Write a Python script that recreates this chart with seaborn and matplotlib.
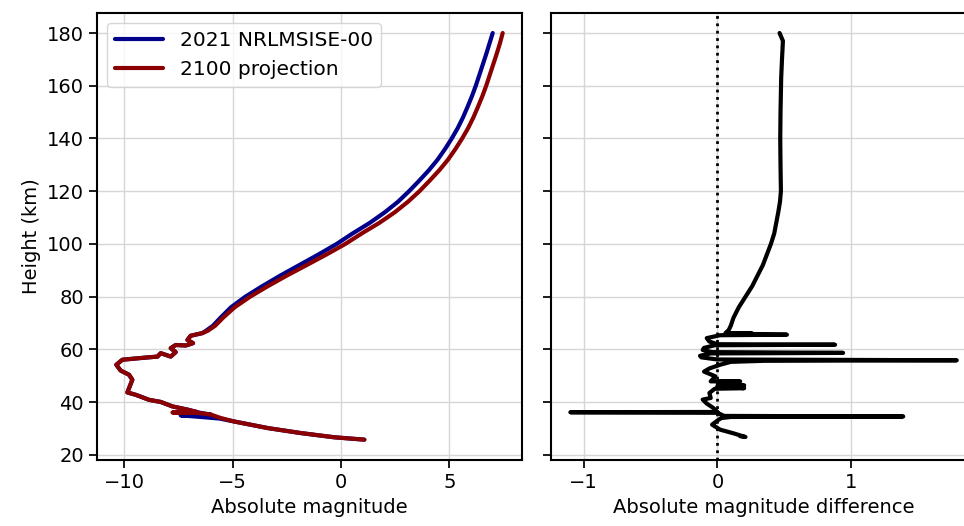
import numpy as np
import pandas as pd
import matplotlib
matplotlib.use('Agg')
import matplotlib.pyplot as plt
import seaborn as sns

# upper smooth part of the light curves (height in km, absolute magnitude)
upper_h = [180, 176, 172, 168, 164, 160, 156, 152, 148, 144, 140, 136, 132, 128, 124,
           120, 116, 112, 108, 104, 100, 96, 92, 88, 84, 80, 76, 72, 69, 67]
upper_2021 = [7.00, 6.85, 6.70, 6.54, 6.38, 6.22, 6.04, 5.84, 5.63, 5.39, 5.11, 4.80,
              4.46, 4.06, 3.61, 3.14, 2.63, 2.02, 1.33, 0.54, -0.20, -1.04, -1.92,
              -2.80, -3.63, -4.41, -5.07, -5.56, -5.90, -6.24]
upper_2100 = [7.46, 7.33, 7.18, 7.02, 6.86, 6.70, 6.52, 6.32, 6.11, 5.87, 5.59, 5.28,
              4.94, 4.54, 4.09, 3.62, 3.09, 2.48, 1.77, 0.96, 0.20, -0.67, -1.58,
              -2.50, -3.37, -4.19, -4.90, -5.44, -5.80, -6.16]

# wiggly part below 67 km, shared by both models down to 37 km
mid_h = [66.2, 65.2, 63.6, 62.4, 61.5, 61.7, 60.5, 59.0, 57.3, 58.6, 57.3, 56.7, 56.1,
         54.2, 52.0, 50.4, 48.5, 46.0, 43.7, 42.8, 40.9, 40.1, 38.4, 37.2]
mid_mag = [-6.39, -6.93, -7.08, -6.82, -7.16, -7.62, -7.85, -7.62, -7.85, -8.31, -8.46,
           -9.31, -10.08, -10.36, -10.16, -9.77, -9.62, -9.74, -9.85, -9.46, -8.85,
           -8.31, -7.77, -7.08]

# flags around 35 km differ between the two models
flag_h_2021 = [36.0, 35.3, 35.0, 34.5, 33.8]
flag_2021 = [-6.50, -6.00, -7.39, -6.60, -5.60]
flag_h_2100 = [36.3, 36.1, 35.9, 35.3, 34.0]
flag_2100 = [-6.65, -7.77, -6.55, -6.00, -5.54]

# lower tail shared by both
tail_h = [32.7, 30.2, 28.3, 26.7, 25.8]
tail_mag = [-4.93, -3.38, -1.85, -0.31, 1.08]

# magnitude difference (2100 - 2021)
diff_h = [180, 177, 170, 163, 150, 140, 130, 120, 116, 112, 108, 104, 100, 96, 92, 88,
          84, 80, 76, 72, 69, 67.4, 66.2, 66.1, 66.0, 65.6, 65.4, 64.3, 63.0, 62.0,
          61.8, 61.6, 60.6, 59.8, 59.0, 58.7, 58.5, 57.6, 57.0, 56.2, 55.9, 55.7, 55.3,
          54.2, 52.8, 51.6, 49.8, 47.9, 47.9, 47.7, 46.4, 46.2, 45.3, 45.1, 43.5, 41.6,
          41.0, 39.5, 37.8, 36.3, 36.2, 36.0, 34.8, 34.6, 34.4, 34.0, 33.4, 31.5, 29.6,
          28.2, 26.8, 27.1]
diff_mag = [0.465, 0.49, 0.483, 0.477, 0.472, 0.47, 0.472, 0.475, 0.468, 0.455, 0.44,
            0.425, 0.40, 0.37, 0.34, 0.30, 0.26, 0.21, 0.16, 0.12, 0.10, 0.085, 0.06,
            0.26, 0.07, 0.52, 0.02, -0.08, -0.06, 0.0, 0.88, -0.02, -0.10, -0.11, -0.04,
            0.94, -0.05, -0.13, -0.12, 0.0, 1.79, 0.35, 0.10, 0.02, -0.06, -0.10, -0.015,
            -0.05, 0.17, 0.0, 0.20, 0.0, 0.20, -0.02, -0.06, -0.05, -0.11, -0.08, -0.03,
            0.0, -1.10, 0.0, 0.05, 1.39, 0.10, 0.03, 0.01, -0.04, 0.02, 0.12, 0.21, 0.17]

# %%
df21 = pd.DataFrame({'mag': upper_2021 + mid_mag + flag_2021 + tail_mag,
                     'h': upper_h + mid_h + flag_h_2021 + tail_h})
df00 = pd.DataFrame({'mag': upper_2100 + mid_mag + flag_2100 + tail_mag,
                     'h': upper_h + mid_h + flag_h_2100 + tail_h})
ddf = pd.DataFrame({'mag': diff_mag, 'h': diff_h})

sns.set_theme(style='ticks', rc={'axes.edgecolor': 'black', 'xtick.color': 'black',
                                 'ytick.color': 'black', 'text.color': 'black',
                                 'axes.labelcolor': 'black', 'axes.linewidth': 1.5,
                                 'grid.color': '#d6d6d6', 'grid.linewidth': 1.0})
plt.rcParams['font.family'] = ['DejaVu Sans']

fig = plt.figure(figsize=(9.64, 5.26), dpi=100)
ax1 = fig.add_axes([0.1006, 0.1255, 0.4409, 0.8504])
ax2 = fig.add_axes([0.5716, 0.1255, 0.4409, 0.8504], sharey=ax1)

sns.lineplot(data=df21, x='mag', y='h', sort=False, estimator=None, color='darkblue',
             lw=3, label='2021 NRLMSISE-00', ax=ax1)
sns.lineplot(data=df00, x='mag', y='h', sort=False, estimator=None, color='darkred',
             lw=3, label='2100 projection', ax=ax1)
ax1.set_xlabel('Absolute magnitude', fontsize=14)
ax1.set_ylabel('Height (km)', fontsize=14)
ax1.legend(loc='upper left', fontsize=14.5, handlelength=2.4)
ax1.grid(True)

ax2.axvline(0, color='black', ls=':', lw=2)
sns.lineplot(data=ddf, x='mag', y='h', sort=False, estimator=None, color='black',
             lw=3, ax=ax2)
ax2.set_xlabel('Absolute magnitude difference', fontsize=14)
ax2.set_ylabel('')
ax2.grid(True)
ax2.tick_params(labelleft=False)

for ax in (ax1, ax2):
    ax.tick_params(labelsize=14)

ax1.set_yticks([20, 40, 60, 80, 100, 120, 140, 160, 180])
ax2.set_xticks([-1, 0, 1])

fig.savefig('out.png', dpi=100)
